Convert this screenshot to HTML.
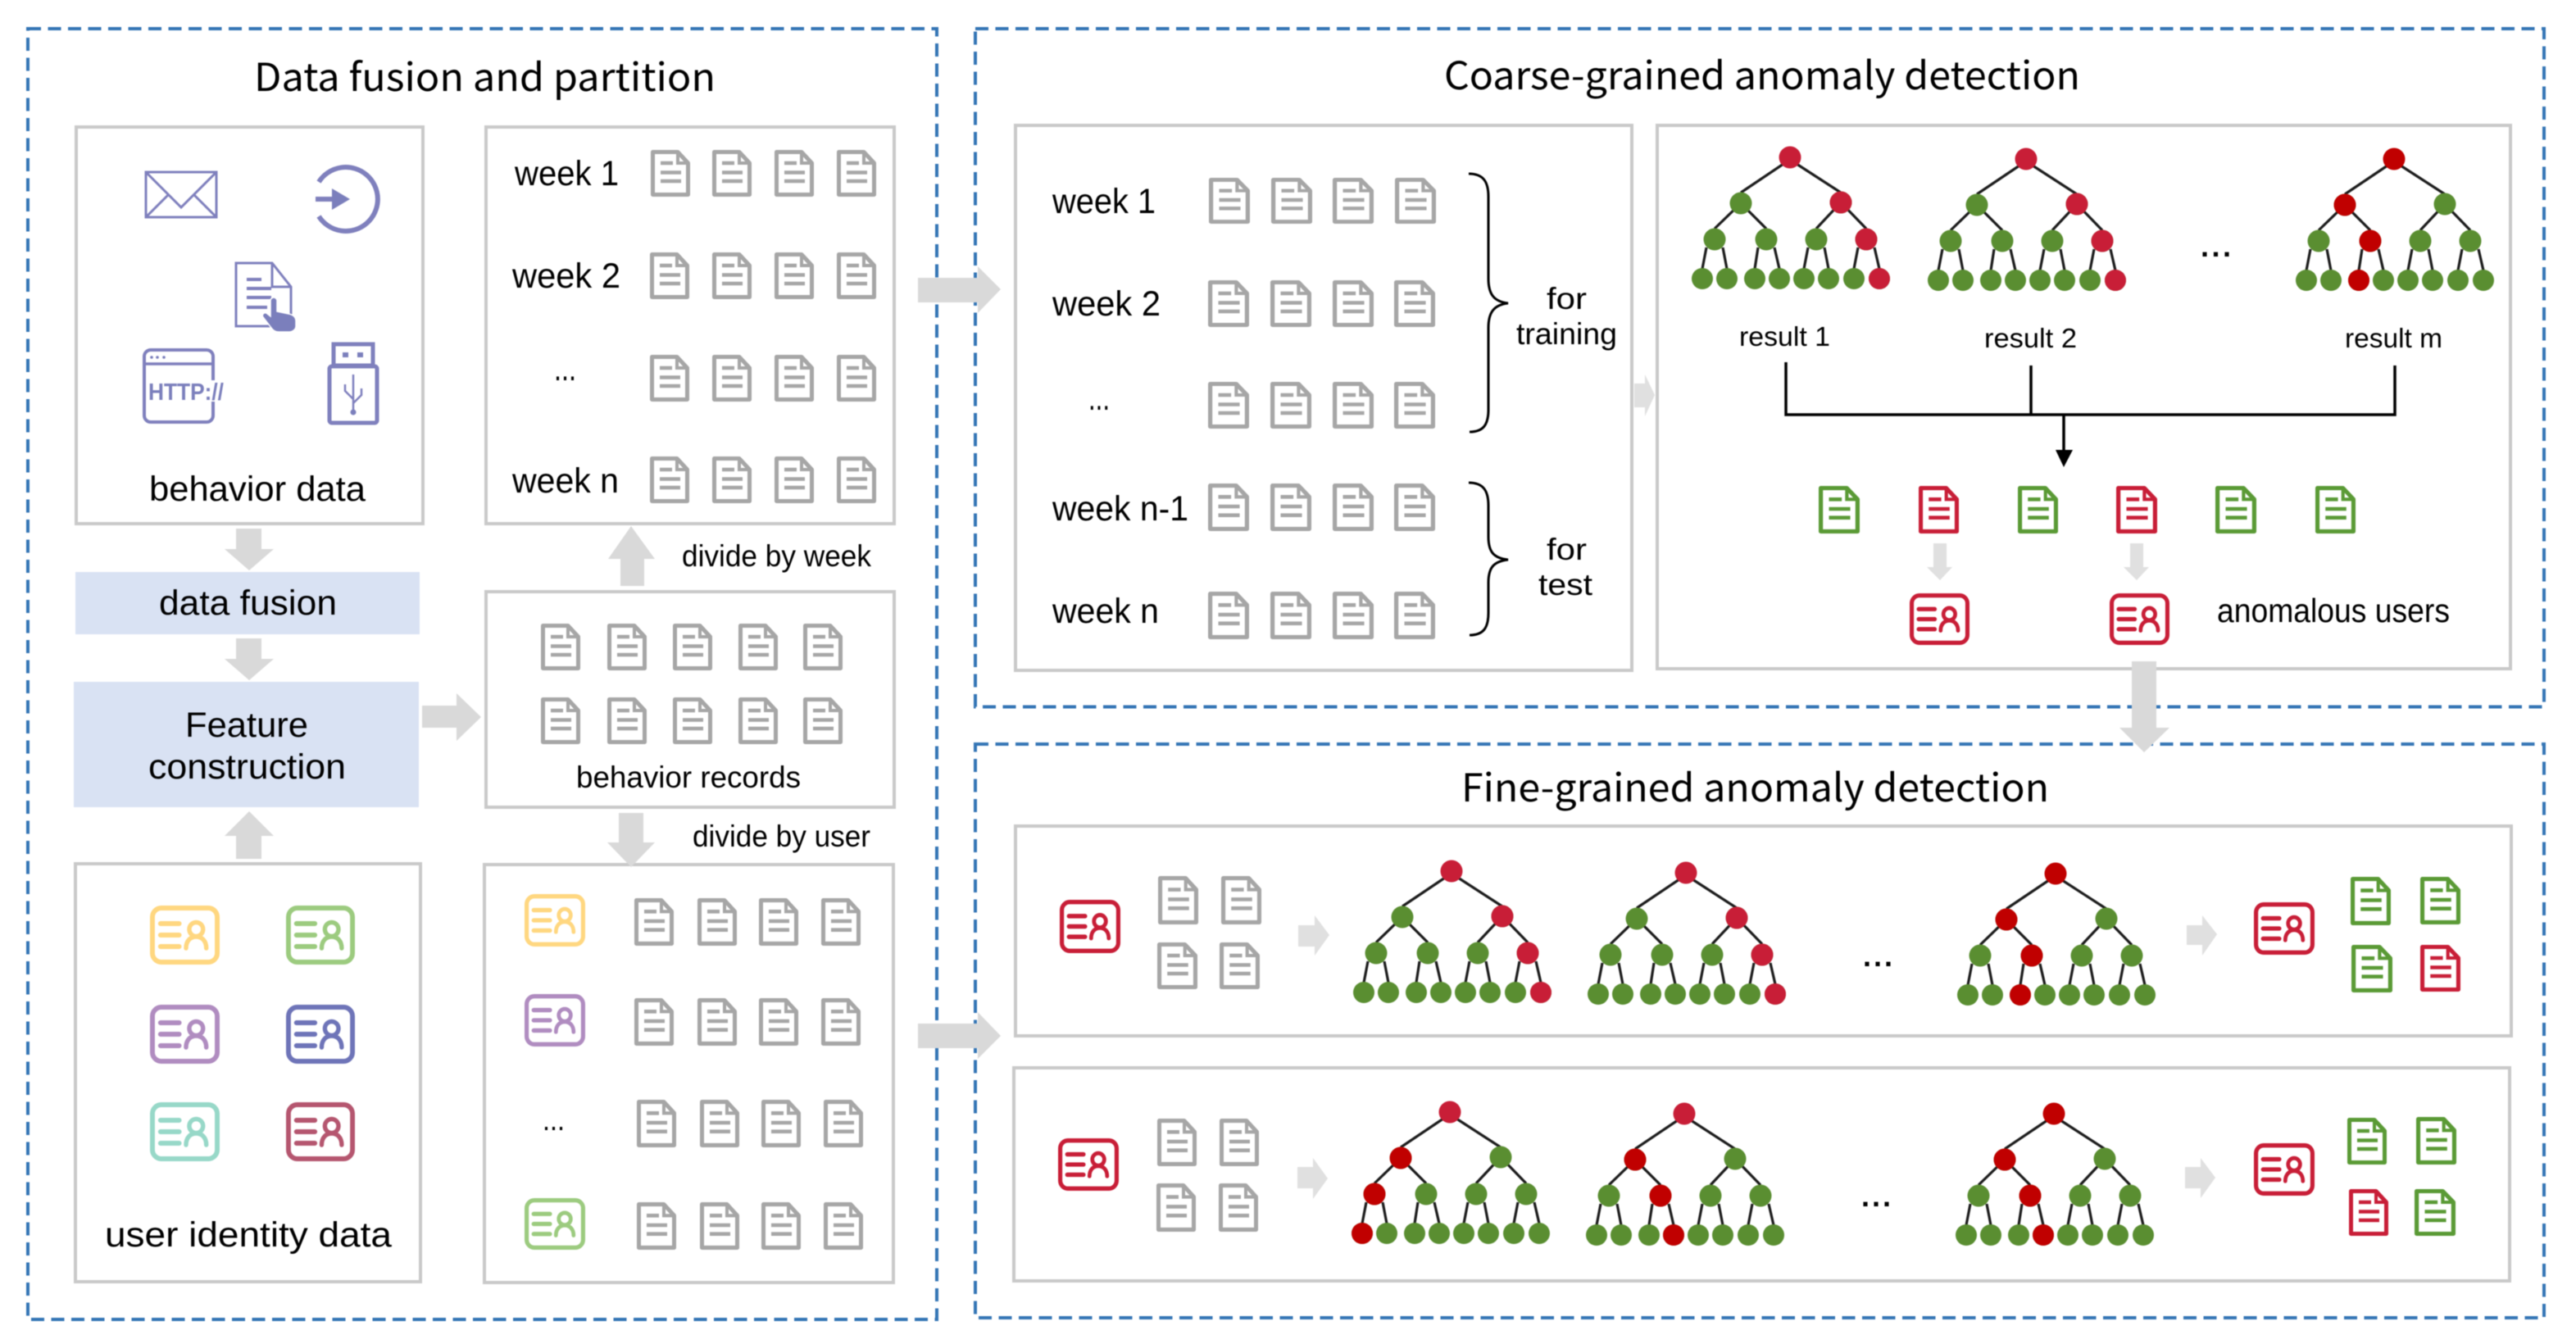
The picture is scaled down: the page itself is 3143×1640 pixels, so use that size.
<!DOCTYPE html>
<html><head><meta charset="utf-8"><style>
html,body{margin:0;padding:0;background:#fff}
svg{display:block;filter:blur(0.6px)}
text{font-family:"Liberation Sans",sans-serif;fill:#000}
.t{font-family:"Noto Sans CJK SC","Liberation Sans",sans-serif;font-size:47px}
.b{font-size:43px}.s{font-size:37px}
.bx{fill:#fff;stroke:#c9c9c9;stroke-width:4}
.ds{fill:none;stroke:#3475b5;stroke-width:4;stroke-dasharray:16 8.5}
</style></head><body>
<svg xmlns="http://www.w3.org/2000/svg" width="3143" height="1640" viewBox="0 0 3143 1640">
<defs>
<symbol id="doc" viewBox="0 0 48 57" preserveAspectRatio="none" overflow="visible">
<path d="M2.5 2.5H33L45.5 16V54.5H2.5Z" fill="#fff" stroke="currentColor" stroke-width="5" stroke-linejoin="round"/>
<path d="M33 2.5V16H45.5" fill="none" stroke="currentColor" stroke-width="4"/>
<path d="M12 16H27M12 27.5H37M12 38H37" stroke="currentColor" stroke-width="4.5" fill="none"/>
</symbol>
<symbol id="card" viewBox="0 0 86 72" preserveAspectRatio="none" overflow="visible">
<rect x="3" y="3" width="80" height="66" rx="11" fill="#fff" stroke="currentColor" stroke-width="6"/>
<path d="M13 22H36M13 36H36M13 50H36" stroke="currentColor" stroke-width="6" stroke-linecap="round" fill="none"/>
<circle cx="57" cy="29" r="8.5" fill="none" stroke="currentColor" stroke-width="5.5"/>
<path d="M44.5 52C44.5 43 50 38 57 38C64 38 69.5 43 69.5 52" fill="none" stroke="currentColor" stroke-width="5.5" stroke-linecap="round"/>
</symbol>
<g id="tree">
<path d="M-8 8L-60 43M8 8L62 43M-60 56L-92 87M-60 56L-29 87M62 55L32 87M62 55L93 87M-102 110L-107 136M-82 110L-77 136M-39 110L-43 136M-19 110L-13 136M22 110L17 136M42 110L47 136M83 110L78 136M103 110L109 136" stroke="#1c1c1c" stroke-width="3.2" fill="none"/>
<g fill="#5a8e31">
<circle cx="-60" cy="56" r="13.5"/><circle cx="62" cy="55" r="13.5"/>
<circle cx="-92" cy="100" r="13.5"/><circle cx="-29" cy="100" r="13.5"/><circle cx="32" cy="100" r="13.5"/><circle cx="93" cy="100" r="13.5"/>
<circle cx="-107" cy="148" r="13"/><circle cx="-77" cy="148" r="13"/><circle cx="-43" cy="148" r="13"/><circle cx="-13" cy="148" r="13"/><circle cx="17" cy="148" r="13"/><circle cx="47" cy="148" r="13"/><circle cx="78" cy="148" r="13"/><circle cx="109" cy="148" r="13"/>
</g>
</g>
<g id="tA"><use href="#tree"/><g fill="#c81e37"><circle r="13.5"/><circle cx="62" cy="55" r="13.5"/><circle cx="93" cy="100" r="13.5"/><circle cx="109" cy="148" r="13"/></g></g>
<g id="tC"><use href="#tree"/><g fill="#c00000"><circle r="13.5"/><circle cx="-60" cy="56" r="13.5"/><circle cx="-29" cy="100" r="13.5"/><circle cx="-43" cy="148" r="13"/></g></g>
<g id="tD"><use href="#tree"/><g fill="#c00000"><circle r="13.5"/><circle cx="-60" cy="56" r="13.5"/><circle cx="-29" cy="100" r="13.5"/><circle cx="-13" cy="148" r="13"/></g></g>
<g id="tE"><use href="#tree"/><circle r="13.5" fill="#c81e37"/><g fill="#c00000"><circle cx="-60" cy="56" r="13.5"/><circle cx="-92" cy="100" r="13.5"/><circle cx="-107" cy="148" r="13"/></g></g>
<g id="tF"><use href="#tree"/><circle r="13.5" fill="#c81e37"/><g fill="#c00000"><circle cx="-60" cy="56" r="13.5"/><circle cx="-29" cy="100" r="13.5"/><circle cx="-13" cy="148" r="13"/></g></g>
</defs>

<rect width="3143" height="1640" fill="#fff"/>

<!-- dashed containers -->
<rect class="ds" x="34" y="35" width="1109" height="1575"/>
<rect class="ds" x="1190" y="35" width="1914" height="827.5"/>
<rect class="ds" x="1190" y="908" width="1914" height="700"/>

<!-- titles -->
<text class="t" x="310" y="111" textLength="563" lengthAdjust="spacingAndGlyphs">Data fusion and partition</text>
<text class="t" x="1762" y="109" textLength="776" lengthAdjust="spacingAndGlyphs">Coarse-grained anomaly detection</text>
<text class="t" x="1783" y="978" textLength="717" lengthAdjust="spacingAndGlyphs">Fine-grained anomaly detection</text>

<!-- boxes -->
<rect class="bx" x="93" y="155" width="423" height="484"/>
<rect class="bx" x="593" y="155" width="498" height="484"/>
<rect x="92" y="698" width="420" height="76" fill="#d9e2f3"/>
<rect x="90" y="832" width="421" height="153" fill="#d9e2f3"/>
<rect class="bx" x="593" y="722" width="498" height="263"/>
<rect class="bx" x="92" y="1054" width="421" height="510"/>
<rect class="bx" x="591" y="1055" width="499" height="510"/>
<rect class="bx" x="1239" y="153" width="752" height="665"/>
<rect class="bx" x="2022" y="153" width="1041" height="663"/>
<rect class="bx" x="1239" y="1008" width="1825" height="256"/>
<rect class="bx" x="1237" y="1303" width="1825" height="260"/>

<!-- block arrows -->
<g fill="#d9d9d9">
<polygon points="288,645 319,645 319,670 334,670 304,696 274,670 288,670"/>
<polygon points="288,779 319,779 319,804 334,804 304,830 274,804 288,804"/>
<polygon points="288,1048 319,1048 319,1020 334,1020 304,990 274,1020 288,1020"/>
<polygon points="515,861 557,861 557,846 587,875 557,904 557,888 515,888"/>
<polygon points="757,715 786,715 786,682 799,682 770,642 742,682 757,682"/>
<polygon points="755,992 785,992 785,1028 799,1028 770,1058 741,1028 755,1028"/>
<polygon points="1120,339 1193,339 1193,325 1221,353 1193,382 1193,369 1120,369"/>
<polygon points="1120,1249 1193,1249 1193,1235 1221,1264 1193,1292 1193,1279 1120,1279"/>
<polygon points="2601,807 2631,807 2631,888 2647,888 2616,918 2586,888 2601,888"/>
</g>
<g fill="#e0e0e0">
<polygon points="1994,468 2007,468 2007,457 2019,482 2007,508 2007,497 1994,497"/>
<polygon points="2359,663 2375,663 2375,692 2382,692 2367,708 2351,692 2359,692"/>
<polygon points="2599,663 2615,663 2615,692 2622,692 2607,708 2591,692 2599,692"/>
<polygon points="1584,1129 1604,1129 1604,1117 1622,1141 1604,1166 1604,1155 1584,1155"/>
<polygon points="1583,1424 1602,1424 1602,1413 1620,1438 1602,1463 1602,1450 1583,1450"/>
<polygon points="2668,1129 2687,1129 2687,1117 2705,1140 2687,1166 2687,1153 2668,1153"/>
<polygon points="2666,1424 2685,1424 2685,1413 2703,1437 2685,1462 2685,1450 2666,1450"/>
</g>

<!-- left labels -->
<text class="b" x="182" y="611" textLength="264" lengthAdjust="spacingAndGlyphs">behavior data</text>
<text class="b" x="194" y="750" textLength="217" lengthAdjust="spacingAndGlyphs">data fusion</text>
<text class="b" x="226" y="899" textLength="150" lengthAdjust="spacingAndGlyphs">Feature</text>
<text class="b" x="181" y="950" textLength="241" lengthAdjust="spacingAndGlyphs">construction</text>
<text class="b" x="128" y="1521" textLength="350" lengthAdjust="spacingAndGlyphs">user identity data</text>
<text class="b" x="628" y="226" textLength="127" lengthAdjust="spacingAndGlyphs">week 1</text>
<text class="b" x="625" y="351" textLength="132" lengthAdjust="spacingAndGlyphs">week 2</text>
<text class="b" x="676" y="464" textLength="27" lengthAdjust="spacingAndGlyphs">...</text>
<text class="b" x="625" y="601" textLength="130" lengthAdjust="spacingAndGlyphs">week n</text>
<text class="s" x="832" y="691" textLength="231" lengthAdjust="spacingAndGlyphs">divide by week</text>
<text class="s" x="703" y="961" textLength="274" lengthAdjust="spacingAndGlyphs">behavior records</text>
<text class="s" x="845" y="1033" textLength="217" lengthAdjust="spacingAndGlyphs">divide by user</text>
<text class="s" x="662" y="1379" textLength="27" lengthAdjust="spacingAndGlyphs">...</text>

<!-- coarse labels -->
<text class="b" x="1284" y="260" textLength="126" lengthAdjust="spacingAndGlyphs">week 1</text>
<text class="b" x="1284" y="385" textLength="132" lengthAdjust="spacingAndGlyphs">week 2</text>
<text class="b" x="1328" y="500" textLength="26" lengthAdjust="spacingAndGlyphs">...</text>
<text class="b" x="1284" y="635" textLength="166" lengthAdjust="spacingAndGlyphs">week n-1</text>
<text class="b" x="1284" y="760" textLength="130" lengthAdjust="spacingAndGlyphs">week n</text>
<text class="s" x="1887" y="377" textLength="49" lengthAdjust="spacingAndGlyphs">for</text>
<text class="s" x="1850" y="420" textLength="123" lengthAdjust="spacingAndGlyphs">training</text>
<text class="s" x="1887" y="683" textLength="49" lengthAdjust="spacingAndGlyphs">for</text>
<text class="s" x="1877" y="726" textLength="66" lengthAdjust="spacingAndGlyphs">test</text>
<text x="2122" y="422" font-size="33" textLength="111" lengthAdjust="spacingAndGlyphs">result 1</text>
<text x="2421" y="424" font-size="33" textLength="113" lengthAdjust="spacingAndGlyphs">result 2</text>
<text x="2861" y="424" font-size="33" textLength="119" lengthAdjust="spacingAndGlyphs">result m</text>
<text x="2705" y="759" font-size="41" textLength="284" lengthAdjust="spacingAndGlyphs">anomalous users</text>
<text x="2685" y="313" font-size="36" font-weight="bold" textLength="37" lengthAdjust="spacing">...</text>
<text x="2273" y="1179" font-size="36" font-weight="bold" textLength="36" lengthAdjust="spacing">...</text>
<text x="2271" y="1472" font-size="36" font-weight="bold" textLength="36" lengthAdjust="spacing">...</text>

<!-- braces -->
<g fill="none" stroke="#000" stroke-width="3">
<path d="M1792 212C1810 212 1816 222 1816 240V340C1816 358 1822 368 1840 370C1822 372 1816 382 1816 400V500C1816 518 1810 527 1793 527"/>
<path d="M1792 589C1810 589 1816 599 1816 617V655C1816 673 1822 681 1840 683C1822 685 1816 693 1816 711V748C1816 766 1810 775 1793 775"/>
</g>

<!-- gray docs -->
<g color="#a6a6a6">
<use href="#doc" x="794" y="183" width="48" height="57"/><use href="#doc" x="869" y="183" width="48" height="57"/><use href="#doc" x="945" y="183" width="48" height="57"/><use href="#doc" x="1021" y="183" width="48" height="57"/>
<use href="#doc" x="793" y="308" width="48" height="57"/><use href="#doc" x="869" y="308" width="48" height="57"/><use href="#doc" x="945" y="308" width="48" height="57"/><use href="#doc" x="1021" y="308" width="48" height="57"/>
<use href="#doc" x="793" y="433" width="48" height="57"/><use href="#doc" x="869" y="433" width="48" height="57"/><use href="#doc" x="945" y="433" width="48" height="57"/><use href="#doc" x="1021" y="433" width="48" height="57"/>
<use href="#doc" x="793" y="557" width="48" height="57"/><use href="#doc" x="869" y="557" width="48" height="57"/><use href="#doc" x="945" y="557" width="48" height="57"/><use href="#doc" x="1021" y="557" width="48" height="57"/>

<use href="#doc" x="660" y="761" width="48" height="57"/><use href="#doc" x="741" y="761" width="48" height="57"/><use href="#doc" x="821" y="761" width="48" height="57"/><use href="#doc" x="901" y="761" width="48" height="57"/><use href="#doc" x="980" y="761" width="48" height="57"/>
<use href="#doc" x="660" y="851" width="48" height="57"/><use href="#doc" x="741" y="851" width="48" height="57"/><use href="#doc" x="821" y="851" width="48" height="57"/><use href="#doc" x="901" y="851" width="48" height="57"/><use href="#doc" x="980" y="851" width="48" height="57"/>

<use href="#doc" x="774" y="1096" width="48" height="58"/><use href="#doc" x="851" y="1096" width="48" height="58"/><use href="#doc" x="926" y="1096" width="48" height="58"/><use href="#doc" x="1002" y="1096" width="48" height="58"/>
<use href="#doc" x="774" y="1218" width="48" height="58"/><use href="#doc" x="851" y="1218" width="48" height="58"/><use href="#doc" x="926" y="1218" width="48" height="58"/><use href="#doc" x="1002" y="1218" width="48" height="58"/>
<use href="#doc" x="777" y="1342" width="48" height="58"/><use href="#doc" x="854" y="1342" width="48" height="58"/><use href="#doc" x="929" y="1342" width="48" height="58"/><use href="#doc" x="1005" y="1342" width="48" height="58"/>
<use href="#doc" x="777" y="1467" width="48" height="58"/><use href="#doc" x="854" y="1467" width="48" height="58"/><use href="#doc" x="929" y="1467" width="48" height="58"/><use href="#doc" x="1005" y="1467" width="48" height="58"/>

<use href="#doc" x="1475" y="217" width="50" height="56"/><use href="#doc" x="1551" y="217" width="50" height="56"/><use href="#doc" x="1626" y="217" width="50" height="56"/><use href="#doc" x="1702" y="217" width="50" height="56"/>
<use href="#doc" x="1474" y="342" width="50" height="57"/><use href="#doc" x="1550" y="342" width="50" height="57"/><use href="#doc" x="1626" y="342" width="50" height="57"/><use href="#doc" x="1701" y="342" width="50" height="57"/>
<use href="#doc" x="1474" y="466" width="50" height="57"/><use href="#doc" x="1550" y="466" width="50" height="57"/><use href="#doc" x="1626" y="466" width="50" height="57"/><use href="#doc" x="1701" y="466" width="50" height="57"/>
<use href="#doc" x="1474" y="590" width="50" height="58"/><use href="#doc" x="1550" y="590" width="50" height="58"/><use href="#doc" x="1626" y="590" width="50" height="58"/><use href="#doc" x="1701" y="590" width="50" height="58"/>
<use href="#doc" x="1474" y="722" width="50" height="58"/><use href="#doc" x="1550" y="722" width="50" height="58"/><use href="#doc" x="1626" y="722" width="50" height="58"/><use href="#doc" x="1701" y="722" width="50" height="58"/>

<use href="#doc" x="1413" y="1069" width="49" height="59"/><use href="#doc" x="1490" y="1069" width="49" height="59"/>
<use href="#doc" x="1412" y="1150" width="49" height="57"/><use href="#doc" x="1488" y="1150" width="49" height="57"/>
<use href="#doc" x="1412" y="1365" width="48" height="58"/><use href="#doc" x="1488" y="1365" width="48" height="58"/>
<use href="#doc" x="1411" y="1444" width="48" height="59"/><use href="#doc" x="1487" y="1444" width="48" height="59"/>
</g>

<!-- coloured docs -->
<g color="#5a9a35">
<use href="#doc" x="2219" y="593" width="50" height="58"/><use href="#doc" x="2462" y="593" width="49" height="58"/><use href="#doc" x="2703" y="593" width="50" height="58"/><use href="#doc" x="2825" y="593" width="49" height="58"/>
<use href="#doc" x="2868" y="1070" width="49" height="59"/><use href="#doc" x="2953" y="1070" width="49" height="58"/><use href="#doc" x="2869" y="1153" width="50" height="58"/>
<use href="#doc" x="2864" y="1364" width="48" height="57"/><use href="#doc" x="2948" y="1363" width="49" height="58"/><use href="#doc" x="2946" y="1451" width="50" height="57"/>
</g>
<g color="#c81e37">
<use href="#doc" x="2341" y="593" width="49" height="58"/><use href="#doc" x="2582" y="593" width="50" height="58"/>
<use href="#doc" x="2953" y="1153" width="49" height="57"/>
<use href="#doc" x="2866" y="1451" width="48" height="57"/>
<use href="#card" x="2330" y="724" width="73" height="63"/><use href="#card" x="2574" y="724" width="73" height="63"/>
<use href="#card" x="1293" y="1098" width="74" height="65"/><use href="#card" x="1291" y="1389" width="74" height="64"/>
<use href="#card" x="2750" y="1101" width="74" height="64"/><use href="#card" x="2750" y="1395" width="74" height="64"/>
</g>

<!-- id cards -->
<use href="#card" x="183" y="1105" width="85" height="72" color="#ffd780"/>
<use href="#card" x="349" y="1105" width="84" height="72" color="#9ccb7f"/>
<use href="#card" x="183" y="1226" width="85" height="72" color="#b08cc0"/>
<use href="#card" x="349" y="1226" width="84" height="72" color="#6e74b8"/>
<use href="#card" x="183" y="1345" width="85" height="72" color="#97d8c8"/>
<use href="#card" x="349" y="1345" width="84" height="72" color="#b5566f"/>
<use href="#card" x="640" y="1091" width="74" height="64" color="#ffd780"/>
<use href="#card" x="640" y="1213" width="74" height="64" color="#b08cc0"/>
<use href="#card" x="640" y="1462" width="74" height="63" color="#9ccb7f"/>

<!-- trees -->
<use href="#tA" x="2184" y="192"/>
<use href="#tA" x="2472" y="194"/>
<use href="#tC" x="2921" y="194"/>
<use href="#tA" x="1771" y="1063"/>
<use href="#tA" x="2057" y="1065"/>
<use href="#tC" x="2508" y="1066"/>
<use href="#tE" x="1769" y="1357"/>
<use href="#tF" x="2055" y="1359"/>
<use href="#tD" x="2506" y="1359"/>

<!-- connector -->
<path d="M2179 442V506H2922V446M2478 446V506M2518 506V552" fill="none" stroke="#000" stroke-width="3.5"/>
<polygon points="2508,549 2529,549 2518,570" fill="#000"/>

<!-- behavior icons -->
<g fill="none" stroke="#7f80bd">
<rect x="178" y="210" width="86" height="55" stroke-width="3"/>
<path d="M178 210L221 253L264 210M178 265L206 237M264 265L236 237" stroke-width="3"/>
<path d="M389 222A39 39 0 1 1 389 264" stroke-width="6"/>
<path d="M385 243H412" stroke-width="6"/>
<path d="M288 321H332L355 350V398H288Z" stroke-width="3" fill="#fff"/>
<path d="M332 321V350H355" stroke-width="3"/>
<path d="M301 341H319M301 352H331M301 363H331M301 375H326" stroke-width="4"/>
<rect x="176" y="427" width="84" height="88" rx="8" stroke-width="4" fill="#fff"/>
<path d="M176 444H260" stroke-width="3.5"/>
<rect x="402" y="447" width="58" height="69" rx="3" stroke-width="5" fill="#fff"/>
<rect x="407" y="420" width="48" height="26" stroke-width="5" fill="#fff"/>
<path d="M431 457V500M431 487L421 477V469M431 492L441 482V474" stroke-width="2.5"/>
</g>
<g fill="#7b7fbc">
<polygon points="405,230 427,243 405,256"/>
<path d="M330 367a4 4 0 0 1 8 0V380l14 3c6 1 9 4 9 9V398c0 4-4 7-8 7H340c-4 0-7-2-9-5L321 387c-2-3 1-6 4-5l5 4Z" stroke="#fff" stroke-width="1.5"/>
<circle cx="185" cy="436" r="1.8"/><circle cx="192" cy="436" r="1.8"/><circle cx="200" cy="436" r="1.8"/>
<rect x="418" y="430" width="7" height="6"/><rect x="436" y="430" width="7" height="6"/>
<circle cx="431" cy="503" r="3.5"/>
</g>
<rect x="256" y="464" width="8" height="26" fill="#fff"/>
<text x="181" y="488" font-size="29" font-weight="bold" textLength="92" lengthAdjust="spacingAndGlyphs" style="fill:#7b7fbc">HTTP://</text>
</svg>
</body></html>
